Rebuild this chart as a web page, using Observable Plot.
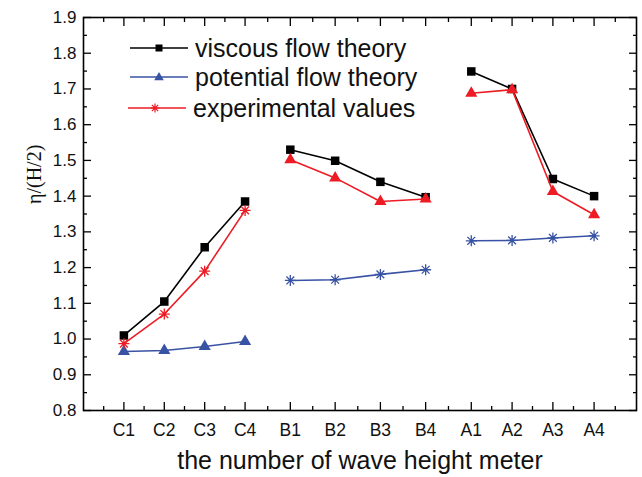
<!DOCTYPE html>
<html><head><meta charset="utf-8">
<script src="https://cdn.jsdelivr.net/npm/d3@7"></script>
<script src="https://cdn.jsdelivr.net/npm/@observablehq/plot@0.6"></script>
<style>
body{margin:0;background:#fff;}
#wrap{position:relative;width:642px;height:477px;}
#legend{position:absolute;left:0;top:0;font-family:"Liberation Sans",Arial,sans-serif;font-size:25px;color:#111;}
.row{position:absolute;display:flex;align-items:center;white-space:nowrap;height:28px;}
.row svg{margin-right:6px;}
</style></head><body><div id="wrap"><div id="legend"></div></div>
<script>
// ---- data ----
const labels = ["C1","C2","C3","C4","B1","B2","B3","B4","A1","A2","A3","A4"];
const positions = [1, 2, 3, 4, 5.12, 6.23, 7.35, 8.47, 9.6, 10.61, 11.62, 12.64];
const xDomain = [0, 13.69];
const viscous = [1.010, 1.105, 1.257, 1.385, 1.530, 1.499, 1.440, 1.397, 1.749, 1.700, 1.448, 1.400];
const potential = [0.965, 0.968, 0.979, 0.993, 1.164, 1.166, 1.181, 1.194, 1.275, 1.276, 1.283, 1.289];
const experimental = [0.987, 1.070, 1.190, 1.360, 1.502, 1.451, 1.385, 1.392, 1.688, 1.698, 1.413, 1.348];
const seriesNames = ["viscous flow theory", "potential flow theory", "experimental values"];
const seriesColors = ["#000000", "#3953a4", "#ed1c24"];
const viscousMarkers = {C: "square", B: "square", A: "square"};
const potentialMarkers = {C: "triangle", B: "star", A: "star"};
const experimentalMarkers = {C: "star", B: "triangle", A: "triangle"};
const legendMarkers = ["square", "triangle", "star"];
const yTicks = [0.8, 0.9, 1.0, 1.1, 1.2, 1.3, 1.4, 1.5, 1.6, 1.7, 1.8, 1.9];
const yDomain = [0.8, 1.9];
const xTitle = "the number of wave height meter";
const yTitle = "η/(H/2)";

// ---- derived ----
const values = [viscous, potential, experimental];
const markers = [viscousMarkers, potentialMarkers, experimentalMarkers];
const rows = [];
values.forEach((vals, si) => labels.forEach((lab, i) => rows.push({
  si, series: seriesNames[si], label: lab, group: lab[0], key: seriesNames[si] + lab[0],
  x: positions[i], y: vals[i], marker: markers[si][lab[0]]
})));
const edges = [xDomain[0], ...positions, xDomain[1]];
const xMinor = d3.pairs(edges).map(([a, b]) => (a + b) / 2);
const yMinor = d3.pairs(yTicks).map(([a, b]) => (a + b) / 2);
const labelOf = new Map(positions.map((p, i) => [p, labels[i]]));

const starSymbol = {draw(ctx, size) {
  const r = Math.sqrt(size / Math.PI), d = r * Math.SQRT1_2;
  ctx.moveTo(-r, 0); ctx.lineTo(r, 0);
  ctx.moveTo(0, -r); ctx.lineTo(0, r);
  ctx.moveTo(-d, -d); ctx.lineTo(d, d);
  ctx.moveTo(-d, d); ctx.lineTo(d, -d);
}};

const seriesMarks = [];
[0, 1, 2].forEach(si => {
  const color = seriesColors[si];
  const data = rows.filter(r => r.si === si);
  seriesMarks.push(Plot.line(data, {x: "x", y: "y", z: "key", stroke: color, strokeWidth: 1.6}));
  seriesMarks.push(Plot.dot(data.filter(d => d.marker === "square"), {x: "x", y: "y", symbol: "square", r: 4.8, fill: color, stroke: "none"}));
  seriesMarks.push(Plot.dot(data.filter(d => d.marker === "triangle"), {x: "x", y: "y", symbol: "triangle", r: 4.5, fill: color, stroke: "none"}));
  seriesMarks.push(Plot.dot(data.filter(d => d.marker === "star"), {x: "x", y: "y", symbol: starSymbol, r: 5.5, fill: "none", stroke: color, strokeWidth: 1.3}));
  seriesMarks.push(Plot.dot(data.filter(d => d.marker === "star"), {x: "x", y: "y", r: 1.6, fill: color, stroke: "none"}));
});

const chart = Plot.plot({
  width: 642, height: 477,
  marginLeft: 83, marginRight: 6, marginTop: 17, marginBottom: 67,
  style: {fontFamily: "'Liberation Sans', Arial, sans-serif", fontSize: "16px", background: "white", color: "#111"},
  x: {type: "linear", domain: xDomain},
  y: {type: "linear", domain: yDomain},
  marks: [
    // tick labels
    Plot.axisX({ticks: positions, tickSize: 0, tickPadding: 13, tickFormat: p => labelOf.get(p), label: null, fontSize: 17.5}),
    Plot.axisY({ticks: yTicks, tickSize: 0, tickPadding: 7, tickFormat: d3.format(".1f"), label: null, fontSize: 17}),
    // inward major & minor ticks on all four sides
    Plot.axisX({ticks: positions, tickSize: -8, fill: "none", stroke: "black", strokeWidth: 1.3, label: null}),
    Plot.axisX({ticks: xMinor, tickSize: -4, fill: "none", stroke: "black", strokeWidth: 1.3, label: null}),
    Plot.axisX({anchor: "top", ticks: positions, tickSize: -8, fill: "none", stroke: "black", strokeWidth: 1.3, label: null}),
    Plot.axisX({anchor: "top", ticks: xMinor, tickSize: -4, fill: "none", stroke: "black", strokeWidth: 1.3, label: null}),
    Plot.axisY({ticks: yTicks, tickSize: -8, fill: "none", stroke: "black", strokeWidth: 1.3, label: null}),
    Plot.axisY({ticks: yMinor, tickSize: -4, fill: "none", stroke: "black", strokeWidth: 1.3, label: null}),
    Plot.axisY({anchor: "right", ticks: yTicks, tickSize: -8, fill: "none", stroke: "black", strokeWidth: 1.3, label: null}),
    Plot.axisY({anchor: "right", ticks: yMinor, tickSize: -4, fill: "none", stroke: "black", strokeWidth: 1.3, label: null}),
    Plot.frame({stroke: "black", strokeWidth: 1.6}),
    ...seriesMarks,
    Plot.text([xTitle], {frameAnchor: "bottom", dy: 58, fontSize: 25, fill: "#111"}),
    Plot.text([yTitle], {frameAnchor: "left", dx: -49, dy: -10, rotate: -90, fontSize: 20, fontFamily: "'Liberation Serif', 'Times New Roman', serif", fill: "#111"})
  ]
});
document.getElementById("wrap").prepend(chart);

// ---- legend (overlay inside plot area) ----
const legend = document.getElementById("legend");
const rowCenters = [48, 77, 108];
seriesNames.forEach((name, i) => {
  const color = seriesColors[i];
  const m = legendMarkers[i];
  let markerSvg = "";
  if (m === "square") markerSvg = `<rect x="26.5" y="6.5" width="7" height="7" fill="${color}"/>`;
  else if (m === "triangle") markerSvg = `<path transform="translate(30,10.5)" d="${d3.symbol(d3.symbolTriangle, 40)()}" fill="${color}"/>`;
  else markerSvg = `<g transform="translate(28,10)" stroke="${color}" stroke-width="1.2"><path d="${(() => { const p = d3.path(); starSymbol.draw(p, Math.PI * 20); return p.toString(); })()}"/></g><circle cx="28" cy="10" r="1.2" fill="${color}"/>`;
  const div = document.createElement("div");
  div.className = "row";
  div.style.left = (i === 2 ? 127 : 129) + "px";
  div.style.top = (rowCenters[i] - 14) + "px";
  div.innerHTML = `<svg width="60" height="20"><line x1="1" y1="10" x2="59" y2="10" stroke="${color}" stroke-width="1.6"/>${markerSvg}</svg><span>${name}</span>`;
  legend.appendChild(div);
});
</script></body></html>
